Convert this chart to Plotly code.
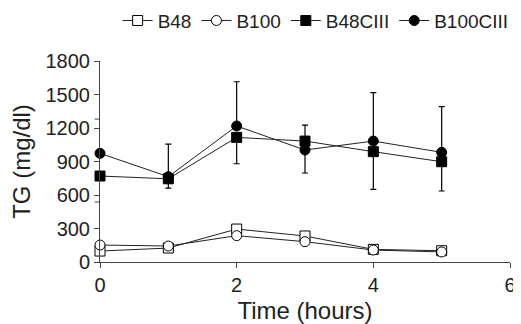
import plotly.graph_objects as go

time_h = [0, 1, 2, 3, 4, 5]
b48 = [98, 125, 295, 233, 113, 101]
b100 = [152, 143, 236, 182, 107, 90]
b48c3 = [770, 745, 1116, 1083, 988, 898]
b100c3 = [973, 764, 1218, 1003, 1083, 982]
b48c3_err_minus = [0, 83, 236, 286, 337, 262]
b100c3_err_plus = [0, 292, 396, 223, 433, 409]
y_break_ticks = [1280, 537]

font = "Liberation Sans, Arial, sans-serif"
fig = go.Figure()

def add(name, y, fill, symbol, err=None, minus=False):
    kw = {}
    if err is not None:
        zeros = [0] * len(err)
        kw["error_y"] = dict(type="data", symmetric=False,
                             array=zeros if minus else err,
                             arrayminus=err if minus else zeros,
                             color="black", thickness=1.2, width=3)
    fig.add_trace(go.Scatter(
        x=time_h, y=y, name=name, mode="lines+markers",
        line=dict(color="#222", width=1),
        marker=dict(symbol=symbol, size=10, color=fill,
                    line=dict(color="black", width=1)),
        cliponaxis=False, **kw))

add("B48", b48, "white", "square")
add("B100", b100, "white", "circle")
add("B48CIII", b48c3, "black", "square", b48c3_err_minus, minus=True)
add("B100CIII", b100c3, "black", "circle", b100c3_err_plus)

for v in y_break_ticks:
    fig.add_shape(type="line", xref="paper", yref="y", x0=-0.013, x1=0, y0=v, y1=v,
                  line=dict(color="#444", width=1))

# page body adds an 8px margin: figure is sized/offset to compensate
fig.update_layout(
    width=513, height=316,
    margin=dict(l=92, r=11, t=53, b=62, autoexpand=False),
    paper_bgcolor="white", plot_bgcolor="white",
    font=dict(family=font, size=20, color="#222"),
    showlegend=True,
    legend=dict(orientation="h", x=0.043, xref="paper", y=0.96, yref="container",
                xanchor="left", yanchor="middle",
                font=dict(size=19), itemwidth=30, tracegroupgap=0, bgcolor="rgba(0,0,0,0)"),
    xaxis=dict(range=[0, 6], tickvals=[0, 2, 4, 6], showline=True, linecolor="#444",
               linewidth=1, ticks="outside", ticklen=5, tickcolor="#444", showgrid=False,
               zeroline=False, ticklabeloverflow="allow", automargin=False,
               title=dict(text="Time (hours)", standoff=10)),
    yaxis=dict(range=[0, 1800], tickvals=[0, 300, 600, 900, 1200, 1500, 1800], showline=True,
               linecolor="#444", linewidth=1, ticks="outside", ticklen=5, tickcolor="#444",
               showgrid=False, zeroline=False, automargin=False,
               title=dict(text="TG (mg/dl)", standoff=10)),
)

fig.write_html("out.html")
